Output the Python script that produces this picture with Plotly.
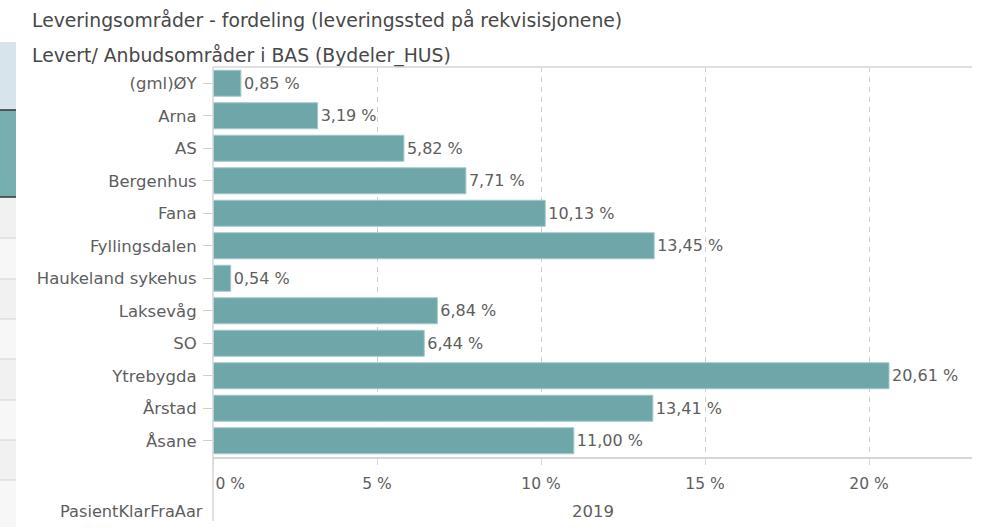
import plotly.graph_objects as go

categories = ["(gml)ØY", "Arna", "AS", "Bergenhus", "Fana", "Fyllingsdalen",
              "Haukeland sykehus", "Laksevåg", "SO", "Ytrebygda", "Årstad", "Åsane"]
values = [0.85, 3.19, 5.82, 7.71, 10.13, 13.45, 0.54, 6.84, 6.44, 20.61, 13.41, 11.00]
tick_vals = [0, 5, 10, 15, 20]
tick_text = ["\u00a0" * 7 + "0 %", "5 %", "10 %", "15 %", "20 %"]
year_label = "2019"

title1 = "Leveringsområder - fordeling (leveringssted på rekvisisjonene)"
title2 = "Levert/ Anbudsområder i BAS (Bydeler_HUS)"

W, H = 983, 532
L, R, T, B = 213, 11, 67, 75
pw, ph = W - L - R, H - T - B

def px(x):
    return (x - L) / pw

def py(y):
    return (H - B - y) / ph

FONT = "DejaVu Sans"
TXT = "#5e5e5e"
BAR = "#6ea6a9"

labels = [f"{v:.2f}".replace(".", ",") + " %" for v in values]

fig = go.Figure(go.Bar(
    x=values, y=categories, orientation="h",
    marker=dict(color=BAR, line=dict(width=1, color="#a3c8ca")),
    text=labels, textposition="outside", cliponaxis=False,
    textfont=dict(color=TXT, size=16, family=FONT),
    hoverinfo="skip",
))

shapes = []
shapes.append(dict(type="line", xref="paper", yref="paper", x0=0, x1=1, y0=1, y1=1,
                   line=dict(color="#d6d6d6", width=1.5)))
shapes.append(dict(type="line", xref="paper", yref="paper", x0=0, x1=0, y0=py(521), y1=1,
                   line=dict(color="#d6d6d6", width=1.5)))
shapes.append(dict(type="rect", xref="paper", yref="paper", x0=px(0), x1=px(16),
                   y0=py(110), y1=py(42), fillcolor="#d7e4eb", line=dict(width=0), layer="below"))
shapes.append(dict(type="rect", xref="paper", yref="paper", x0=px(0), x1=px(16),
                   y0=py(197), y1=py(110), fillcolor="#77afb1", line=dict(width=0), layer="below"))
for yy in (110, 197):
    shapes.append(dict(type="line", xref="paper", yref="paper", x0=px(0), x1=px(16),
                       y0=py(yy), y1=py(yy), line=dict(color="#333333", width=1.5)))
rows = [197, 238, 279, 319, 359, 400, 440, 480, 527]
for i in range(len(rows) - 1):
    shapes.append(dict(type="rect", xref="paper", yref="paper", x0=px(0), x1=px(16),
                       y0=py(rows[i + 1]), y1=py(rows[i]),
                       fillcolor="#f1f1f1" if i % 2 == 0 else "#f7f7f7",
                       line=dict(width=0), layer="below"))
    if i > 0:
        shapes.append(dict(type="line", xref="paper", yref="paper", x0=px(0), x1=px(16),
                           y0=py(rows[i]), y1=py(rows[i]), line=dict(color="#d9d9d9", width=1.2)))

annotations = [
    dict(text=title1, xref="paper", yref="paper", x=px(30), y=py(20), xanchor="left",
         yanchor="middle", showarrow=False, font=dict(size=18.8, color="#484848", family=FONT)),
    dict(text=title2, xref="paper", yref="paper", x=px(30), y=py(55), xanchor="left",
         yanchor="middle", showarrow=False, font=dict(size=18.8, color="#484848", family=FONT)),
    dict(text=year_label, xref="paper", yref="paper", x=px(593), y=py(511), xanchor="center",
         yanchor="middle", showarrow=False, font=dict(size=16.5, color=TXT, family=FONT)),
    dict(text="PasientKlarFraAar", xref="paper", yref="paper", x=px(205), y=py(511),
         xanchor="right", yanchor="middle", showarrow=False,
         font=dict(size=16.2, color=TXT, family=FONT)),
]

fig.update_layout(
    width=W, height=H, margin=dict(l=L, r=R, t=T, b=B, pad=0),
    paper_bgcolor="white", plot_bgcolor="white",
    bargap=0.2, showlegend=False,
    font=dict(family=FONT, color=TXT, size=16),
    shapes=shapes, annotations=annotations,
    xaxis=dict(range=[0, pw / 32.8], tickvals=tick_vals, ticktext=tick_text,
               showgrid=True, gridcolor="#cfcfcf", griddash="5px,5px", gridwidth=1,
               zeroline=False, showline=True, linecolor="#d6d6d6", linewidth=1.5,
               ticks="outside", ticklen=6, tickcolor="#d6d6d6",
               ticklabelstandoff=6, tickfont=dict(size=15.5, color=TXT, family=FONT),
               fixedrange=True, automargin=False),
    yaxis=dict(autorange="reversed", showgrid=False, zeroline=False, showline=False,
               ticks="outside", ticklen=9, tickcolor="#d0d0d0",
               ticklabelstandoff=3, tickfont=dict(size=16.5, color=TXT, family=FONT),
               fixedrange=True, automargin=False),
)

fig.write_html("out.html", config={"displayModeBar": False},
               post_script="document.body.style.margin='0';document.body.style.padding='0';")
